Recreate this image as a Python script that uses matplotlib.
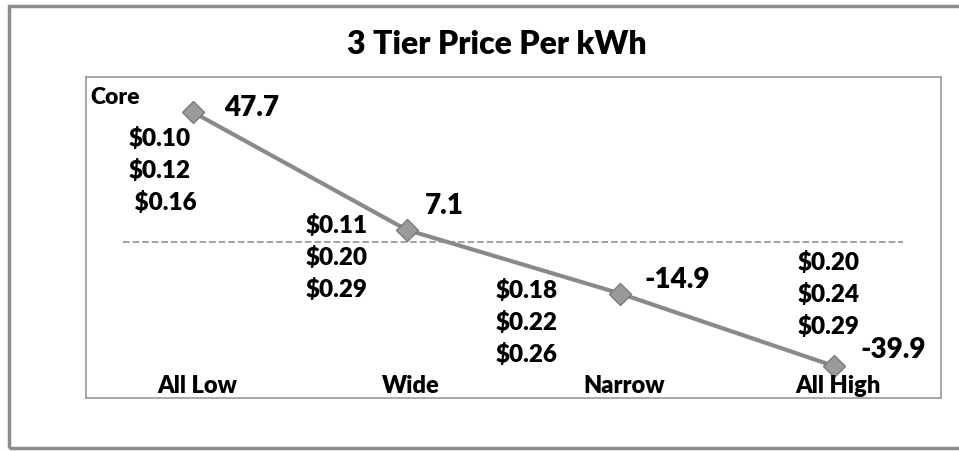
import matplotlib
matplotlib.use("Agg")
import matplotlib.pyplot as plt
from matplotlib.patches import Rectangle
import matplotlib.transforms as mtransforms

plt.rcParams['font.family'] = ['Lato', 'DejaVu Sans']
plt.rcParams['font.weight'] = 800

# data
scenarios = ['All Low', 'Wide', 'Narrow', 'All High']
values = [47.7, 7.1, -14.9, -39.9]
value_labels = ['47.7', '7.1', '-14.9', '-39.9']
tier_prices = [['$0.10', '$0.12', ' $0.16'],
               ['$0.11', '$0.20', '$0.29'],
               ['$0.18', '$0.22', '$0.26'],
               ['$0.20', '$0.24', '$0.29']]
ref_level = 2.8

fig = plt.figure(figsize=(9.59, 4.52), dpi=100)
ax = fig.add_axes([0.0897, 0.1173, 0.8915, 0.7101])

x = list(range(len(scenarios)))
ax.plot(x, values, color='#8a8a8a', lw=3, marker='D', ms=11,
        mfc='#9a9a9a', mec='#7a7a7a', mew=1, zorder=3)
ax.axhline(ref_level, xmin=0.043, xmax=0.956, color='#9a9a9a', ls='--', lw=1.3, zorder=1)

ax.set_xlim(-0.5, 3.5)
ax.set_ylim(-50.9, 59.8)
ax.set_xticks([])
ax.set_yticks([])
for s in ax.spines.values():
    s.set_color('#999999')
    s.set_linewidth(1.2)

# value labels, offset in pixels from each point
val_off = [(59, 5), (38, 25), (57, 15), (59, 17)]
for i, (v, lab) in enumerate(zip(values, value_labels)):
    ax.annotate(lab, (i, v), xytext=val_off[i], textcoords='offset pixels',
                ha='center', va='center', fontsize=20, fontweight=800)

# tier price stacks (left edge / first line centre, in pixels from point)
stack_off = [(-64, -25), (-101, 5), (-125, 4), (-37, 105)]
for i, prices in enumerate(tier_prices):
    dx, dy = stack_off[i]
    for k, p in enumerate(prices):
        ax.annotate(p, (i, values[i]), xytext=(dx, dy - 32 * k),
                    textcoords='offset pixels', ha='left', va='center',
                    fontsize=17.5, fontweight=800)

# category labels inside the plot area
trans = mtransforms.blended_transform_factory(ax.transData, ax.transAxes)
for i, name in enumerate(scenarios):
    ax.text(i + 0.02, 0.04, name, transform=trans, ha='center', va='center',
            fontsize=17, fontweight=800)

ax.text(0.005, 0.94, 'Core', transform=ax.transAxes, ha='left', va='center',
        fontsize=16.5, fontweight=800)

fig.text(0.518, 1 - 44 / 452, '3 Tier Price Per kWh', ha='center', va='center',
         fontsize=23, fontweight=800)

# outer chart frame
fig.patches.append(Rectangle((9 / 959, 3 / 452), 1.0, 1 - 10 / 452,
                             transform=fig.transFigure, fill=False,
                             edgecolor='#8c8c8c', lw=2.5, clip_on=False))

fig.savefig('out.png', dpi=100)
